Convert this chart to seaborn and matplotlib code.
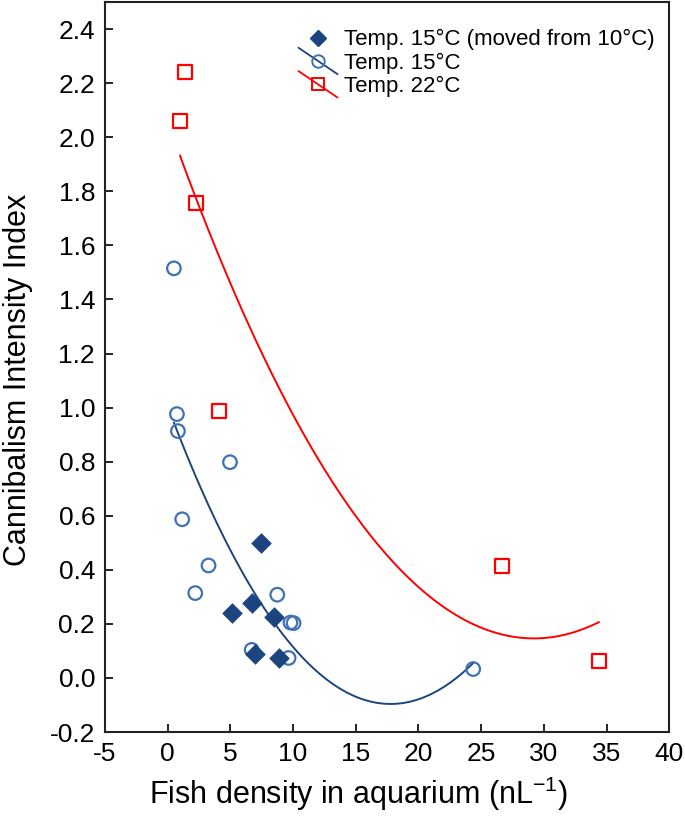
import seaborn as sns
import matplotlib.pyplot as plt
import numpy as np
import pandas as pd
from matplotlib.lines import Line2D
from matplotlib.legend_handler import HandlerBase

# Temp. 22C
x_22 = [0.99, 1.38, 2.26, 4.10, 26.68, 34.4]
y_22 = [2.06, 2.24, 1.756, 0.987, 0.414, 0.062]

# Temp. 15C
x_15 = [0.51, 0.75, 0.83, 1.17, 2.21, 3.27, 4.98, 6.71, 8.75, 9.8, 10.05, 9.65, 24.37]
y_15 = [1.515, 0.976, 0.913, 0.587, 0.314, 0.416, 0.798, 0.104, 0.308, 0.205, 0.203, 0.074, 0.033]

# Temp. 15C (moved from 10C)
x_mv = [7.45, 6.71, 5.11, 8.51, 6.95, 8.91]
y_mv = [0.501, 0.278, 0.239, 0.224, 0.089, 0.074]

x_ticks = list(range(-5, 41, 5))
y_ticks = [-0.2, 0.0, 0.2, 0.4, 0.6, 0.8, 1.0, 1.2, 1.4, 1.6, 1.8, 2.0, 2.2, 2.4]

RED = "#ff0000"
BLUE_PT = "#3d72b5"
NAVY = "#1c4580"


class DiagHandler(HandlerBase):
    # legend key with the fit line drawn diagonally through the marker
    def create_artists(self, legend, orig, xd, yd, w, h, fontsize, trans):
        arts = []
        if orig.get_linestyle() not in ("None", "none", ""):
            ln = Line2D([-xd - 0.1 * w, -xd + w], [-yd + 1.35 * h, -yd - 0.35 * h],
                        color=orig.get_color(), lw=1.3, transform=trans)
            arts.append(ln)
        mk = Line2D([-xd + 0.45 * w], [-yd + h / 2], ls="none", marker=orig.get_marker(),
                    markersize=orig.get_markersize(), mfc=orig.get_markerfacecolor(),
                    mec=orig.get_markeredgecolor(), mew=orig.get_markeredgewidth(),
                    transform=trans)
        arts.append(mk)
        return arts


sns.set_style("ticks")
plt.rcParams["font.family"] = ["Liberation Sans", "DejaVu Sans"]
plt.rcParams["axes.unicode_minus"] = False
plt.rcParams["text.color"] = "black"
plt.rcParams["axes.labelcolor"] = "black"
plt.rcParams["xtick.color"] = "black"
plt.rcParams["ytick.color"] = "black"

fig = plt.figure(figsize=(6.85, 8.3), dpi=100)
ax = fig.add_axes([0.153, 0.118, 0.824, 0.8796])

df22 = pd.DataFrame({"x": x_22, "y": y_22})
df15 = pd.DataFrame({"x": x_15, "y": y_15})
dfmv = pd.DataFrame({"x": x_mv, "y": y_mv})

# quadratic fits over the data range
sns.regplot(data=df22, x="x", y="y", order=2, ci=None, scatter=False, truncate=True,
            line_kws={"color": RED, "lw": 1.4}, ax=ax)
sns.regplot(data=df15, x="x", y="y", order=2, ci=None, scatter=False, truncate=True,
            line_kws={"color": NAVY, "lw": 1.4}, ax=ax)

sns.scatterplot(data=df15, x="x", y="y", marker="o", s=95, facecolor="none",
                edgecolor=BLUE_PT, linewidth=1.6, ax=ax, zorder=3)
sns.scatterplot(data=df22, x="x", y="y", marker="s", s=105, facecolor="none",
                edgecolor=RED, linewidth=1.6, ax=ax, zorder=3)
sns.scatterplot(data=dfmv, x="x", y="y", marker="D", s=100, color=NAVY,
                edgecolor=NAVY, linewidth=0.5, ax=ax, zorder=4)

ax.set_xlim(-5, 40)
ax.set_ylim(-0.2, 2.5)
ax.set_xticks(x_ticks)
ax.set_yticks(y_ticks)
ax.set_yticklabels([f"{v:.1f}" for v in y_ticks])
ax.tick_params(direction="in", length=6, width=1.2, labelsize=19, pad=7)
for sp in ax.spines.values():
    sp.set_linewidth(1.5)
    sp.set_color("#222222")

ax.set_xlabel("Fish density in aquarium (nL$^{\\mathregular{-1}}$)", fontsize=22)
ax.set_ylabel("Cannibalism Intensity Index", fontsize=22)
ax.xaxis.set_label_coords(0.449, -0.058)
ax.yaxis.set_label_coords(-0.128, 0.482)

handles = [
    Line2D([], [], marker="D", color=NAVY, ls="none", markersize=8, mec=NAVY),
    Line2D([], [], marker="o", color=NAVY, mfc="none", mec=BLUE_PT, mew=1.4, markersize=9),
    Line2D([], [], marker="s", color=RED, mfc="none", mec=RED, mew=1.4, markersize=9),
]
labels = ["Temp. 15°C (moved from 10°C)", "Temp. 15°C", "Temp. 22°C"]
ax.legend(handles, labels, loc="upper right", bbox_to_anchor=(1.01, 0.99), frameon=False,
          fontsize=16, handlelength=1.6, handletextpad=0.3, labelspacing=0.1,
          handler_map={Line2D: DiagHandler()})

fig.savefig("out.png", dpi=100)
